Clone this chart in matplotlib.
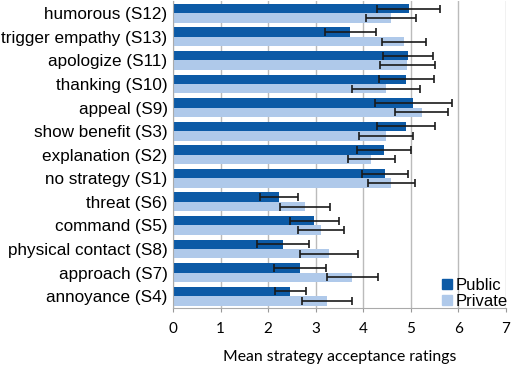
import numpy as np
from matplotlib import pyplot as plt
from matplotlib.patches import Patch

categories = ["humorous (S12)", "trigger empathy (S13)", "apologize (S11)",
              "thanking (S10)", "appeal (S9)", "show benefit (S3)",
              "explanation (S2)", "no strategy (S1)", "threat (S6)",
              "command (S5)", "physical contact (S8)", "approach (S7)",
              "annoyance (S4)"]
public_mean = [4.96, 3.73, 4.94, 4.91, 5.05, 4.90, 4.43, 4.46, 2.22, 2.97, 2.31, 2.67, 2.47]
public_err = [0.66, 0.53, 0.53, 0.57, 0.81, 0.62, 0.57, 0.49, 0.40, 0.52, 0.55, 0.55, 0.33]
private_mean = [4.58, 4.86, 4.93, 4.48, 5.23, 4.48, 4.17, 4.59, 2.77, 3.11, 3.28, 3.77, 3.24]
private_err = [0.53, 0.46, 0.57, 0.71, 0.56, 0.56, 0.49, 0.49, 0.53, 0.49, 0.60, 0.54, 0.52]

dark = "#0c5aa6"
light = "#afc9ea"

plt.rcParams["font.family"] = ["Liberation Sans", "DejaVu Sans"]

fig = plt.figure(figsize=(5.12, 3.67), dpi=100)
ax = fig.add_axes([0.338, 0.161, 0.65, 0.835])

y = np.arange(len(categories))
h = 0.4
err_kw = dict(ecolor="#1a1a1a", elinewidth=1.2, capsize=3, capthick=1.2)
ax.barh(y - h / 2, public_mean, height=h, color=dark, xerr=public_err, error_kw=err_kw, zorder=2)
ax.barh(y + h / 2, private_mean, height=h, color=light, xerr=private_err, error_kw=err_kw, zorder=2)

ax.set_xlim(0, 7)
ax.set_ylim(len(categories) - 0.5, -0.5)
ax.set_yticks(y)
ax.set_yticklabels(categories)
for t in ax.get_yticklabels():
    t.set_fontfamily("Liberation Sans")
    t.set_fontsize(12.3)
ax.tick_params(axis="y", length=0, pad=4)
ax.set_xticks(range(8))
ax.set_xticklabels([str(i) for i in range(8)])
for t in ax.get_xticklabels():
    t.set_fontfamily("Lato")
    t.set_fontsize(11)
ax.tick_params(axis="x", length=3, color="#999999", pad=7)

ax.grid(axis="x", color="#bbbbbb", linewidth=1, zorder=0)
ax.set_axisbelow(True)
for s in ["top", "right"]:
    ax.spines[s].set_visible(False)
ax.spines["left"].set_color("#aaaaaa")
ax.spines["bottom"].set_color("#aaaaaa")

ax.set_xlabel("Mean strategy acceptance ratings", fontsize=11.3, fontfamily="Lato", labelpad=10)

handles = [Patch(color=dark, label="Public"), Patch(color=light, label="Private")]
ax.legend(handles=handles, loc="lower right", frameon=False,
          prop={"family": "Liberation Sans", "size": 12},
          handlelength=0.6, handleheight=0.6, handletextpad=0.2, labelspacing=0.05,
          borderaxespad=0.0, bbox_to_anchor=(1.025, -0.025))

fig.savefig("out.png", dpi=100)
